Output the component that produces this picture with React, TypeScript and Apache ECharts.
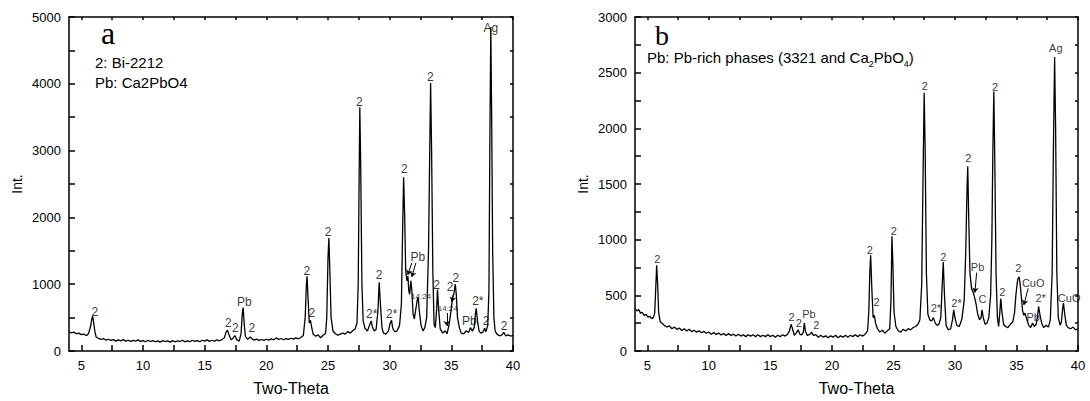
import React, { useEffect, useRef } from "react";
import * as echarts from "echarts";

// Panel a: two-theta / intensity
const patternA: [number, number][] = [
  [4.0, 290], [4.2, 270], [4.4, 282], [4.6, 258], [4.8, 268], [5.0, 245], [5.2, 252], [5.4, 232], [5.5, 242], [5.6, 272],
  [5.75, 370], [5.85, 480], [5.92, 520], [6.0, 430], [6.1, 290], [6.2, 210], [6.4, 188], [6.6, 172], [6.8, 186], [7.0, 162],
  [7.2, 176], [7.4, 158], [7.6, 171], [7.8, 148], [8.0, 166], [8.2, 152], [8.4, 170], [8.6, 148], [8.8, 161], [9.0, 143],
  [9.2, 160], [9.4, 147], [9.6, 166], [9.8, 143], [10.0, 156], [10.2, 138], [10.4, 160], [10.6, 142], [10.8, 156], [11.0, 138],
  [11.2, 151], [11.4, 134], [11.6, 156], [11.8, 142], [12.0, 151], [12.2, 133], [12.4, 156], [12.6, 138], [12.8, 151], [13.0, 142],
  [13.2, 161], [13.4, 138], [13.6, 151], [13.8, 139], [14.0, 161], [14.2, 143], [14.4, 156], [14.6, 139], [14.8, 161], [15.0, 148],
  [15.2, 166], [15.4, 144], [15.6, 161], [15.8, 149], [16.0, 166], [16.2, 153], [16.4, 171], [16.6, 200], [16.75, 290], [16.85, 310],
  [17.0, 230], [17.15, 168], [17.3, 192], [17.45, 232], [17.6, 170], [17.8, 148], [17.95, 260], [18.05, 560], [18.12, 650], [18.2, 420],
  [18.3, 220], [18.5, 175], [18.7, 212], [18.8, 188], [19.0, 163], [19.2, 177], [19.4, 158], [19.6, 172], [19.8, 158], [20.0, 176],
  [20.2, 163], [20.4, 182], [20.6, 168], [20.8, 196], [21.0, 173], [21.2, 187], [21.4, 168], [21.6, 186], [21.8, 173], [22.0, 191],
  [22.2, 178], [22.4, 196], [22.6, 183], [22.8, 202], [23.0, 232], [23.15, 500], [23.25, 1000], [23.3, 1120], [23.38, 800], [23.48, 420],
  [23.58, 460], [23.68, 350], [23.8, 250], [24.0, 222], [24.2, 242], [24.4, 198], [24.6, 236], [24.8, 262], [24.9, 500], [25.0, 1400],
  [25.07, 1690], [25.15, 1200], [25.25, 500], [25.4, 300], [25.6, 258], [25.8, 238], [26.0, 252], [26.2, 266], [26.4, 252], [26.6, 292],
  [26.8, 268], [27.0, 302], [27.2, 330], [27.35, 420], [27.45, 1000], [27.52, 2500], [27.58, 3650], [27.65, 2800], [27.75, 1000], [27.85, 450],
  [28.0, 340], [28.2, 298], [28.35, 380], [28.5, 450], [28.6, 360], [28.75, 298], [28.9, 322], [29.05, 600], [29.15, 1030], [29.25, 700],
  [29.38, 340], [29.5, 268], [29.7, 252], [29.9, 300], [30.05, 420], [30.15, 460], [30.25, 340], [30.4, 288], [30.6, 302], [30.8, 380],
  [30.95, 700], [31.05, 1800], [31.13, 2600], [31.22, 2000], [31.3, 1200], [31.4, 1050], [31.48, 1120], [31.55, 900], [31.62, 850], [31.72, 1050],
  [31.8, 900], [31.9, 550], [32.0, 480], [32.1, 600], [32.25, 780], [32.32, 800], [32.4, 600], [32.55, 380], [32.7, 300], [32.85, 350],
  [33.0, 500], [33.15, 1500], [33.25, 3000], [33.32, 4010], [33.4, 3000], [33.5, 1200], [33.6, 400], [33.7, 350], [33.8, 600], [33.88, 920],
  [33.96, 650], [34.1, 330], [34.3, 268], [34.5, 302], [34.65, 258], [34.8, 380], [34.9, 500], [35.0, 650], [35.1, 800], [35.2, 850],
  [35.32, 1000], [35.4, 850], [35.5, 500], [35.65, 350], [35.8, 268], [36.0, 258], [36.2, 302], [36.4, 278], [36.55, 350], [36.7, 298],
  [36.85, 350], [36.95, 550], [37.02, 640], [37.12, 450], [37.25, 298], [37.4, 268], [37.55, 282], [37.7, 340], [37.8, 288], [37.95, 380],
  [38.05, 900], [38.12, 3000], [38.2, 4850], [38.27, 3500], [38.35, 1500], [38.45, 500], [38.55, 300], [38.7, 252], [38.9, 228], [39.1, 242],
  [39.25, 280], [39.4, 228], [39.6, 242], [39.8, 224], [40.0, 232],
];

// Panel b: two-theta / intensity
const patternB: [number, number][] = [
  [4.0, 380], [4.15, 360], [4.3, 372], [4.45, 340], [4.6, 346], [4.75, 318], [4.9, 330], [5.05, 304], [5.2, 312], [5.35, 290],
  [5.5, 302], [5.6, 340], [5.68, 550], [5.76, 770], [5.84, 600], [5.92, 350], [6.05, 262], [6.2, 250], [6.4, 228], [6.6, 216],
  [6.8, 226], [7.0, 200], [7.2, 216], [7.4, 194], [7.6, 206], [7.8, 184], [8.0, 200], [8.2, 180], [8.4, 196], [8.6, 174],
  [8.8, 186], [9.0, 169], [9.2, 181], [9.4, 164], [9.6, 176], [9.8, 159], [10.0, 171], [10.2, 150], [10.4, 166], [10.6, 149],
  [10.8, 161], [11.0, 144], [11.2, 156], [11.4, 139], [11.6, 156], [11.8, 139], [12.0, 151], [12.2, 134], [12.4, 151], [12.6, 134],
  [12.8, 146], [13.0, 129], [13.2, 146], [13.4, 134], [13.6, 146], [13.8, 129], [14.0, 146], [14.2, 129], [14.4, 141], [14.6, 129],
  [14.8, 146], [15.0, 129], [15.2, 141], [15.4, 124], [15.6, 141], [15.8, 129], [16.0, 146], [16.2, 134], [16.4, 151], [16.55, 180],
  [16.68, 240], [16.8, 200], [16.95, 140], [17.1, 160], [17.25, 190], [17.4, 150], [17.55, 145], [17.68, 170], [17.76, 250], [17.85, 180],
  [18.0, 140], [18.2, 150], [18.35, 170], [18.5, 140], [18.7, 146], [18.9, 124], [19.1, 141], [19.3, 124], [19.5, 136], [19.7, 119],
  [19.9, 136], [20.1, 124], [20.3, 141], [20.5, 119], [20.7, 136], [20.9, 124], [21.1, 141], [21.3, 124], [21.5, 141], [21.7, 129],
  [21.9, 146], [22.1, 129], [22.3, 146], [22.5, 134], [22.7, 151], [22.9, 180], [23.0, 350], [23.08, 700], [23.15, 860], [23.25, 550],
  [23.35, 300], [23.45, 320], [23.55, 250], [23.7, 200], [23.9, 170], [24.1, 186], [24.3, 160], [24.5, 181], [24.7, 200], [24.8, 450],
  [24.88, 1030], [24.95, 800], [25.05, 350], [25.2, 220], [25.4, 180], [25.6, 170], [25.8, 196], [26.0, 180], [26.2, 201], [26.4, 190],
  [26.6, 211], [26.8, 220], [27.0, 240], [27.15, 280], [27.3, 600], [27.4, 1500], [27.5, 2320], [27.58, 1800], [27.68, 700], [27.8, 330],
  [27.95, 280], [28.1, 270], [28.25, 300], [28.4, 250], [28.55, 230], [28.7, 240], [28.85, 300], [28.95, 550], [29.05, 800], [29.15, 500],
  [29.28, 230], [29.45, 190], [29.65, 200], [29.8, 280], [29.9, 370], [30.0, 300], [30.15, 230], [30.35, 220], [30.55, 280], [30.75, 450],
  [30.88, 900], [30.98, 1450], [31.04, 1660], [31.12, 1200], [31.22, 700], [31.35, 560], [31.5, 520], [31.6, 480], [31.72, 420], [31.85, 330],
  [32.0, 280], [32.12, 300], [32.2, 370], [32.3, 300], [32.45, 240], [32.6, 250], [32.75, 300], [32.9, 500], [33.0, 1000], [33.08, 1800],
  [33.16, 2330], [33.24, 1700], [33.34, 700], [33.45, 300], [33.55, 220], [33.65, 350], [33.72, 470], [33.82, 350], [33.95, 240], [34.1, 220],
  [34.3, 210], [34.5, 240], [34.7, 260], [34.85, 350], [34.95, 500], [35.05, 600], [35.12, 650], [35.22, 665], [35.3, 600], [35.4, 480],
  [35.5, 360], [35.6, 320], [35.7, 340], [35.85, 280], [36.0, 230], [36.15, 210], [36.3, 250], [36.45, 220], [36.6, 240], [36.72, 320],
  [36.8, 400], [36.9, 330], [37.05, 250], [37.2, 210], [37.4, 230], [37.6, 215], [37.75, 280], [37.9, 700], [38.0, 1800], [38.1, 2640],
  [38.18, 2000], [38.28, 700], [38.4, 300], [38.55, 230], [38.65, 260], [38.75, 380], [38.82, 430], [38.9, 350], [39.05, 230], [39.2, 210],
  [39.4, 200], [39.6, 215], [39.8, 190], [40.0, 200],
];

// Peak annotations [two-theta, intensity, text]
const labelsA: [number, number, string][] = [
  [6.1, 584, "2"], [16.92, 419, "2"], [17.49, 344, "2"], [18.22, 734, "Pb"], [18.82, 344, "2"],
  [23.28, 1198, "2"], [23.68, 569, "2"], [25.0, 1781, "2"], [27.55, 3728, "2"], [28.55, 554, "2*"],
  [29.14, 1138, "2"], [30.17, 554, "2*"], [31.19, 2725, "2"], [32.28, 1407, "Pb"], [32.55, 823, "14:24"],
  [33.3, 4102, "2"], [33.8, 988, "2"], [34.71, 629, "14:24"], [34.9, 958, "2"], [35.36, 1093, "2"],
  [36.47, 449, "Pb"], [37.15, 749, "2*"], [37.82, 449, "2"], [38.2, 4835, "Ag"], [39.28, 374, "2"],
];
const labelsB: [number, number, string][] = [
  [5.81, 827, "2"], [16.73, 308, "2"], [17.32, 249, "2"], [18.13, 332, "Pb"], [18.73, 234, "2"],
  [23.09, 907, "2"], [23.63, 443, "2"], [25.04, 1078, "2"], [27.56, 2381, "2"], [28.45, 383, "2*"],
  [29.05, 842, "2"], [30.13, 434, "2*"], [31.08, 1731, "2"], [31.84, 757, "Pb"], [32.24, 464, "C"],
  [33.25, 2375, "2"], [33.84, 533, "2"], [35.14, 743, "2"], [36.36, 608, "CuO"], [36.36, 303, "Pb"],
  [36.96, 473, "2*"], [39.28, 473, "CuO"], [38.2, 2720, "Ag"],
];
// Arrows [from two-theta, from intensity, to two-theta, to intensity]
const arrowsA: [number, number, number, number][] = [
  [31.79, 1317, 31.47, 1138], [32.12, 1317, 31.79, 1108], [34.63, 569, 34.63, 374], [35.15, 838, 35.05, 734],
];
const arrowsB: [number, number, number, number][] = [
  [31.76, 703, 31.62, 524], [35.95, 563, 35.6, 413],
];

const xTicks = [5, 7.5, 10, 12.5, 15, 17.5, 20, 22.5, 25, 27.5, 30, 32.5, 35, 37.5, 40];
const xLabels = [5, 10, 15, 20, 25, 30, 35, 40];

const FONT = "Liberation Sans, Arial, sans-serif";
const SERIF = "Liberation Serif, Times New Roman, serif";

function xAxes(gridIndex: number) {
  return [
    {
      type: "value", gridIndex, position: "bottom", min: 4, max: 40,
      name: "Two-Theta", nameLocation: "middle", nameGap: 29,
      nameTextStyle: { fontFamily: FONT, fontSize: 16, color: "#000" },
      axisLine: { show: true, onZero: false, lineStyle: { color: "#000", width: 1.5 } },
      axisTick: { show: true, inside: true, length: 6, customValues: xTicks, lineStyle: { color: "#000", width: 1.5 } },
      axisLabel: { show: true, customValues: xLabels, margin: 8, fontFamily: FONT, fontSize: 13, color: "#000" },
      splitLine: { show: false },
    },
    {
      type: "value", gridIndex, position: "top", min: 4, max: 40,
      axisLine: { show: true, onZero: false, lineStyle: { color: "#000", width: 1.5 } },
      axisTick: { show: true, inside: true, length: 3, customValues: xTicks, lineStyle: { color: "#000", width: 1.5 } },
      axisLabel: { show: false },
      splitLine: { show: false },
    },
  ];
}

function yAxes(gridIndex: number, max: number, labelStep: number, tickStep: number) {
  return [
    {
      type: "value", gridIndex, position: "left", min: 0, max, interval: labelStep,
      name: "Int.", nameLocation: "middle", nameGap: 45,
      nameTextStyle: { fontFamily: FONT, fontSize: 14, color: "#000" },
      axisLine: { show: true, onZero: false, lineStyle: { color: "#000", width: 1.5 } },
      axisTick: { show: true, inside: true, length: 6, lineStyle: { color: "#000", width: 1.5 } },
      minorTick: { show: true, splitNumber: labelStep / tickStep, length: 6, lineStyle: { color: "#000", width: 1.5 } },
      axisLabel: { show: true, margin: 8, fontFamily: FONT, fontSize: 13, color: "#000", formatter: (v: number) => String(v) },
      splitLine: { show: false },
    },
    {
      type: "value", gridIndex, position: "right", min: 0, max, interval: tickStep,
      axisLine: { show: true, onZero: false, lineStyle: { color: "#000", width: 1.5 } },
      axisTick: { show: true, inside: true, length: 3, lineStyle: { color: "#000", width: 1.5 } },
      axisLabel: { show: false },
      splitLine: { show: false },
    },
  ];
}

function labelSeries(xi: number, yi: number, labels: [number, number, string][], arrows: [number, number, number, number][], fs: number) {
  const base = {
    show: true, position: [0, 0], align: "center", verticalAlign: "middle",
    color: "#000", textBorderWidth: 0, textBorderColor: "transparent", fontFamily: FONT,
  };
  return {
    type: "scatter", xAxisIndex: xi, yAxisIndex: yi, symbolSize: 0, silent: true,
    itemStyle: { color: "#000" },
    label: { ...base, fontSize: fs },
    data: labels.map((l) => ({
      value: [l[0], l[1]],
      label: { ...base, formatter: l[2], fontSize: l[2] === "14:24" ? 8 : fs },
    })),
    markLine: {
      silent: true, symbol: ["none", "arrow"], symbolSize: 5, animation: false,
      lineStyle: { color: "#000", width: 1, type: "solid" },
      label: { show: false },
      data: arrows.map((a) => [{ coord: [a[0], a[1]] }, { coord: [a[2], a[3]] }]),
    },
  };
}

export default function App() {
  const ref = useRef<HTMLDivElement>(null);
  useEffect(() => {
    if (!ref.current) return;
    const chart = echarts.init(ref.current, undefined, { renderer: "svg" });
    chart.setOption({
      animation: false,
      backgroundColor: "#fff",
      grid: [
        { left: 69, top: 17, width: 444, height: 334 },
        { left: 635, top: 17, width: 443, height: 334 },
      ],
      xAxis: [...xAxes(0), ...xAxes(1)],
      yAxis: [...yAxes(0, 5000, 1000, 500), ...yAxes(1, 3000, 500, 250)],
      series: [
        {
          type: "line", xAxisIndex: 0, yAxisIndex: 0, data: patternA, showSymbol: false,
          lineStyle: { color: "#000", width: 1.3 }, silent: true,
        },
        {
          type: "line", xAxisIndex: 2, yAxisIndex: 2, data: patternB, showSymbol: false,
          lineStyle: { color: "#000", width: 1.3 }, silent: true,
        },
        labelSeries(0, 0, labelsA, arrowsA, 12),
        labelSeries(2, 2, labelsB, arrowsB, 11),
      ],
      graphic: [
        { type: "text", x: 101, y: 17, style: { text: "a", fontFamily: SERIF, fontSize: 32, fill: "#000" } },
        { type: "text", x: 95, y: 55, style: { text: "2: Bi-2212", fontFamily: FONT, fontSize: 15, fill: "#000" } },
        { type: "text", x: 95, y: 75, style: { text: "Pb: Ca2PbO4", fontFamily: FONT, fontSize: 15, fill: "#000" } },
        { type: "text", x: 655, y: 21, style: { text: "b", fontFamily: SERIF, fontSize: 28, fill: "#000" } },
        {
          type: "text", x: 647, y: 47,
          style: {
            text: "{n|Pb: Pb-rich phases (3321 and Ca}{s|2}{n|PbO}{s|4}{n|)}",
            fontFamily: FONT, fill: "#000",
            rich: {
              n: { fontSize: 15, fontFamily: FONT, lineHeight: 18, verticalAlign: "bottom" },
              s: { fontSize: 9, fontFamily: FONT, lineHeight: 12, verticalAlign: "bottom", padding: [0, 0, -3, 0] },
            },
          },
        },
      ],
    });
    return () => chart.dispose();
  }, []);
  return <div ref={ref} style={{ position: "fixed", left: 0, top: 0, width: 1090, height: 401 }} />;
}
